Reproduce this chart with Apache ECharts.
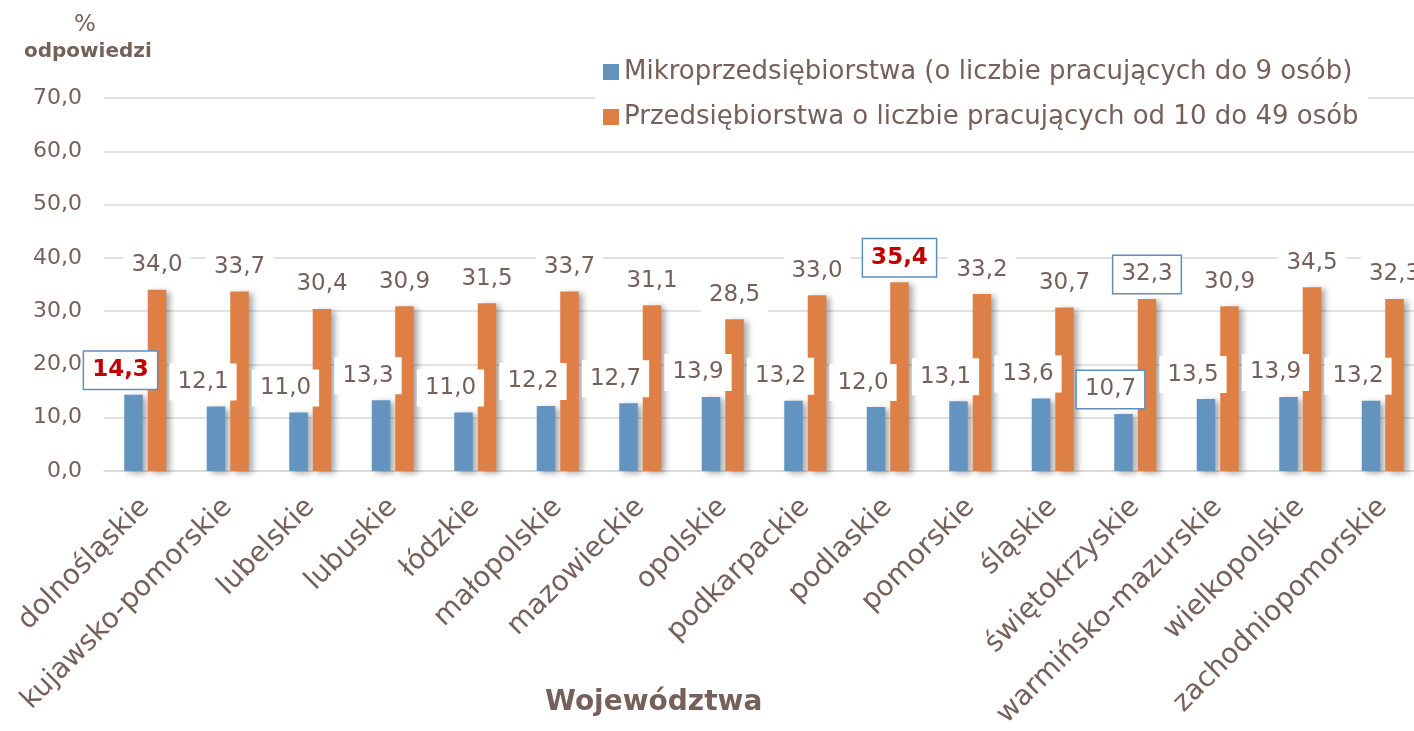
<!DOCTYPE html>
<html>
<head>
<meta charset="utf-8">
<script src="https://cdn.jsdelivr.net/npm/echarts@6/dist/echarts.min.js"></script>
<style>
  html, body { margin: 0; padding: 0; background: #fff; }
  #chart { width: 1414px; height: 731px; }
</style>
</head>
<body>
<div id="chart"></div>
<script>
const categories = ['dolnośląskie', 'kujawsko-pomorskie', 'lubelskie', 'lubuskie', 'łódzkie', 'małopolskie',
  'mazowieckie', 'opolskie', 'podkarpackie', 'podlaskie', 'pomorskie', 'śląskie', 'świętokrzyskie',
  'warmińsko-mazurskie', 'wielkopolskie', 'zachodniopomorskie'];
const micro = [14.3, 12.1, 11.0, 13.3, 11.0, 12.2, 12.7, 13.9, 13.2, 12.0, 13.1, 13.6, 10.7, 13.5, 13.9, 13.2];
const small = [34.0, 33.7, 30.4, 30.9, 31.5, 33.7, 31.1, 28.5, 33.0, 35.4, 33.2, 30.7, 32.3, 30.9, 34.5, 32.3];
const yTicks = [0, 10, 20, 30, 40, 50, 60, 70];
const seriesNames = ['Mikroprzedsiębiorstwa (o liczbie pracujących do 9 osób)',
  'Przedsiębiorstwa o liczbie pracujących od 10 do 49 osób'];
// wyróżnione etykiety (indeksy województw)
const microMax = [0], microMin = [12];
const smallMax = [9], smallMin = [12];

const txt = '#76615a';
const font = 'DejaVu Sans';
const fmt = v => v.toFixed(1).replace('.', ',');

function items(values, maxIdx, minIdx) {
  return values.map((v, i) => {
    if (maxIdx.includes(i)) {
      return { value: v, label: { color: '#c00000', fontWeight: 'bold', borderColor: '#5f8fc0', borderWidth: 1.5 } };
    }
    if (minIdx.includes(i)) {
      return { value: v, label: { borderColor: '#5f8fc0', borderWidth: 1.5 } };
    }
    return v;
  });
}

const labelBase = {
  show: true,
  position: 'top',
  fontFamily: font,
  fontSize: 23,
  color: txt,
  backgroundColor: '#fff',
  padding: [7, 8],
  formatter: p => fmt(p.value)
};

const barShadow = {
  shadowBlur: 6,
  shadowColor: 'rgba(0,0,0,0.35)',
  shadowOffsetX: 4,
  shadowOffsetY: 2
};

const chart = echarts.init(document.getElementById('chart'));
chart.setOption({
  animation: false,
  title: [
    { text: '%', left: 69, top: 9, textStyle: { fontFamily: font, fontSize: 23, fontWeight: 'normal', color: txt } },
    { text: 'odpowiedzi', left: 19, top: 37, textStyle: { fontFamily: font, fontSize: 20, fontWeight: 'bold', color: txt } },
    { text: 'Województwa', left: 540, top: 684, textStyle: { fontFamily: font, fontSize: 28, fontWeight: 'bold', color: txt } }
  ],
  legend: {
    orient: 'vertical',
    left: 595,
    top: 53,
    padding: [6, 10, 6, 8],
    backgroundColor: '#fff',
    itemWidth: 16,
    itemHeight: 16,
    itemGap: 19,
    icon: 'rect',
    textStyle: { fontFamily: font, fontSize: 26, lineHeight: 26, color: txt },
    data: seriesNames
  },
  grid: { left: 104, right: -10, top: 98, bottom: 260, containLabel: false, outerBoundsMode: 'none' },
  xAxis: {
    type: 'category',
    data: categories,
    axisLine: { show: true, lineStyle: { color: '#d9d9d9', width: 1.5 } },
    axisTick: { show: false },
    axisLabel: { interval: 0, rotate: 45, margin: 32, fontFamily: font, fontSize: 28, color: txt }
  },
  yAxis: {
    type: 'value',
    min: yTicks[0],
    max: yTicks[yTicks.length - 1],
    interval: 10,
    axisLine: { show: false },
    axisTick: { show: false },
    splitLine: { lineStyle: { color: '#d9d9d9', width: 1.5 } },
    axisLabel: { margin: 22, fontFamily: font, fontSize: 22, color: txt, formatter: v => fmt(v) }
  },
  series: [
    {
      name: seriesNames[0],
      type: 'bar',
      barWidth: 18.5,
      barGap: '27%',
      itemStyle: Object.assign({ color: '#6394bf' }, barShadow),
      label: Object.assign({}, labelBase, { distance: 6, offset: [-13, 0] }),
      data: items(micro, microMax, microMin)
    },
    {
      name: seriesNames[1],
      type: 'bar',
      barWidth: 18.5,
      itemStyle: Object.assign({ color: '#de8046' }, barShadow),
      label: Object.assign({}, labelBase, { distance: 6 }),
      data: items(small, smallMax, smallMin)
    }
  ]
});
</script>
</body>
</html>
